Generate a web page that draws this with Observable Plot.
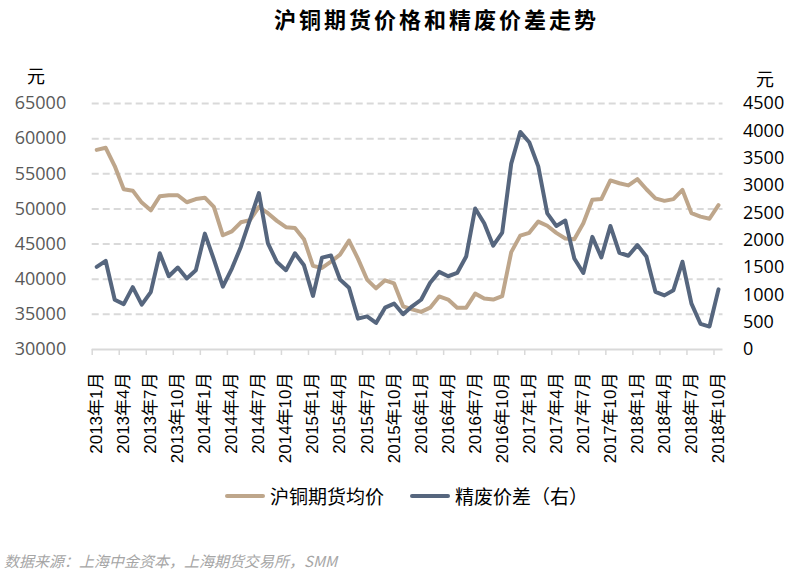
<!DOCTYPE html>
<html><head><meta charset="utf-8">
<script src="https://cdn.jsdelivr.net/npm/d3@7"></script>
<script src="https://cdn.jsdelivr.net/npm/@observablehq/plot@0.6"></script>
<style>
body{margin:0;background:#fff;}
#wrap{position:relative;width:804px;height:581px;overflow:hidden;font-family:"Noto Sans CJK SC",sans-serif;background:#fff;}
#chart{position:absolute;left:0;top:0;}
.abs{position:absolute;white-space:nowrap;line-height:1;}
.sw{position:absolute;width:40px;height:4px;border-radius:2px;}
</style></head><body>
<div id="wrap">
  <div id="chart"></div>
  <div class="abs" id="title" style="left:274px;top:7px;font-size:22px;font-weight:bold;letter-spacing:3px;color:#000;"></div>
  <div class="abs" id="unitL" style="left:27px;top:66px;font-size:18px;color:#000;"></div>
  <div class="abs" id="unitR" style="left:756px;top:69px;font-size:18px;color:#000;"></div>
  <div class="sw" id="sw0" style="left:225px;top:494px;"></div>
  <div class="abs" id="lg0" style="left:270px;top:486px;font-size:19px;color:#000;"></div>
  <div class="sw" id="sw1" style="left:410px;top:494px;"></div>
  <div class="abs" id="lg1" style="left:455px;top:486px;font-size:19px;color:#000;"></div>
  <div class="abs" id="cap" style="left:4px;top:553px;font-size:15px;font-style:italic;color:#a6a6a6;"></div>
</div>
<script>
// ---- data ----
const title = "沪铜期货价格和精废价差走势";
const unitLabel = "元";
const seriesNames = ["沪铜期货均价", "精废价差（右）"];
const seriesColors = ["#bea68b", "#56667e"];
const caption = "数据来源：上海中金资本，上海期货交易所，SMM";

const tickLabels = ["2013年1月","2013年4月","2013年7月","2013年10月",
  "2014年1月","2014年4月","2014年7月","2014年10月",
  "2015年1月","2015年4月","2015年7月","2015年10月",
  "2016年1月","2016年4月","2016年7月","2016年10月",
  "2017年1月","2017年4月","2017年7月","2017年10月",
  "2018年1月","2018年4月","2018年7月","2018年10月"];

// 沪铜期货均价 (left axis), monthly 2013-01 .. 2018-10
const copper = [58400,58700,56100,52800,52600,50900,49800,51800,51950,51950,50950,51400,
  51600,50300,46250,46800,48100,48400,50300,49400,48300,47400,47300,45700,
  41900,41600,42500,43500,45500,42900,39950,38700,39850,39400,36150,35700,
  35350,35950,37550,37100,35950,35950,37950,37250,37100,37600,43850,46200,
  46600,48200,47600,46600,45800,45700,47950,51300,51400,54050,53650,53350,
  54250,52800,51500,51150,51400,52700,49400,48900,48600,50550];

// 精废价差 (right axis)
const spread = [1510,1620,910,830,1140,820,1050,1760,1340,1500,1300,1450,
  2120,1650,1150,1480,1880,2370,2860,1940,1600,1450,1760,1540,
  980,1680,1720,1280,1130,565,605,485,765,840,645,790,
  910,1220,1420,1340,1400,1700,2580,2310,1900,2140,3400,3980,
  3790,3350,2490,2260,2360,1665,1400,2060,1685,2260,1770,1715,
  1910,1700,1055,990,1085,1605,840,470,420,1100];

const leftTicks = [30000,35000,40000,45000,50000,55000,60000,65000];
const rightTicks = [0,500,1000,1500,2000,2500,3000,3500,4000,4500];

// ---- text ----
document.getElementById("title").textContent = title;
document.getElementById("unitL").textContent = unitLabel;
document.getElementById("unitR").textContent = unitLabel;
document.getElementById("lg0").textContent = seriesNames[0];
document.getElementById("lg1").textContent = seriesNames[1];
document.getElementById("sw0").style.background = seriesColors[0];
document.getElementById("sw1").style.background = seriesColors[1];
document.getElementById("cap").textContent = caption;

// ---- chart ----
const lMin = leftTicks[0], lMax = leftTicks[leftTicks.length - 1];
const rMax = rightTicks[rightTicks.length - 1];
const toLeft = r => lMin + r * (lMax - lMin) / rMax;
const n = copper.length;
const idx = d3.range(n);
const copperData = idx.map(i => ({i, v: copper[i]}));
const spreadData = idx.map(i => ({i, v: toLeft(spread[i])}));
const labelIdx = tickLabels.map((_, k) => k * 3);
const boundaryTicks = tickLabels.map((_, k) => k * 3 - 0.5);
const rightMap = new Map(rightTicks.map(r => [toLeft(r), String(r)]));

const plot = Plot.plot({
  width: 804, height: 581,
  marginTop: 103, marginBottom: 232, marginLeft: 91.7, marginRight: 81.5,
  x: {type: "linear", domain: [-0.5, n - 0.5], label: null},
  y: {domain: [lMin, lMax], label: null},
  style: {fontFamily: "'Liberation Sans','Noto Sans CJK SC',sans-serif", background: "transparent", overflow: "visible"},
  marks: [
    Plot.gridY({ticks: leftTicks.filter(t => t > lMin), stroke: "#d9d9d9", strokeOpacity: 1, strokeWidth: 2, strokeDasharray: "7,4"}),
    Plot.ruleY([lMin], {stroke: "#d9d9d9", strokeWidth: 2}),
    Plot.axisX({ticks: boundaryTicks, tickSize: 6, stroke: "#d9d9d9", strokeWidth: 1.5, tickFormat: () => "", label: null}),
    Plot.axisX({ticks: labelIdx, tickSize: 0, tickRotate: -90, tickPadding: 23, fontSize: 17, fill: "#000",
      tickFormat: i => tickLabels[Math.round(i / 3)], label: null}),
    Plot.axisY({ticks: leftTicks, anchor: "left", tickSize: 0, tickPadding: 26, fontSize: 18, fill: "#595959",
      fontFamily: "'Open Sans',sans-serif", tickFormat: d => String(d), label: null}),
    Plot.axisY({ticks: rightTicks.map(toLeft), anchor: "right", tickSize: 0, tickPadding: 20, fontSize: 18, fill: "#000",
      fontFamily: "'Open Sans',sans-serif", tickFormat: d => rightMap.get(d) ?? "", label: null}),
    Plot.line(copperData, {x: "i", y: "v", stroke: seriesColors[0], strokeWidth: 4, strokeLinejoin: "round", strokeLinecap: "round"}),
    Plot.line(spreadData, {x: "i", y: "v", stroke: seriesColors[1], strokeWidth: 4, strokeLinejoin: "round", strokeLinecap: "round"})
  ]
});
document.getElementById("chart").appendChild(plot);
</script>
</body></html>
